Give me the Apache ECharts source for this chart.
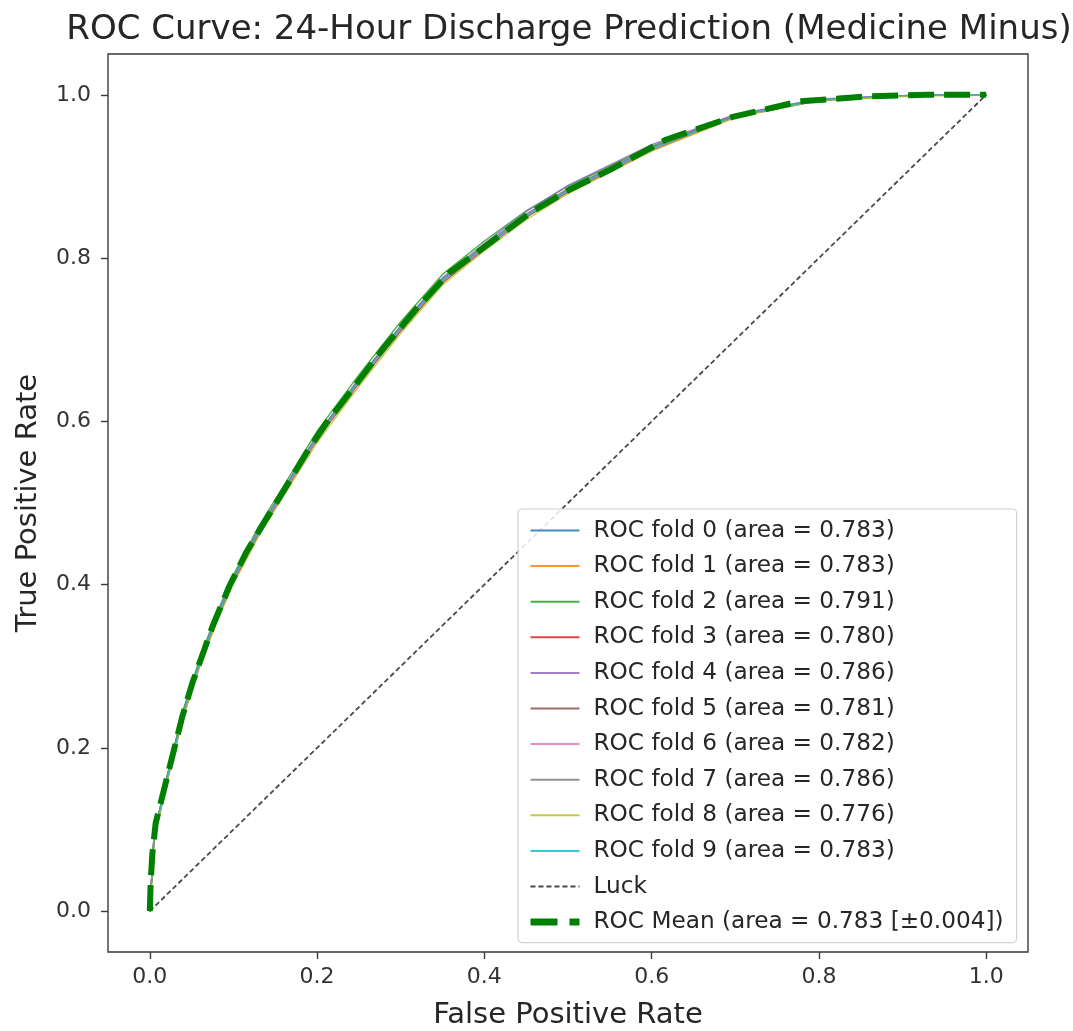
<!DOCTYPE html>
<html>
<head>
<meta charset="utf-8">
<script src="https://cdn.jsdelivr.net/npm/echarts@6/dist/echarts.min.js"></script>
<style>
html,body{margin:0;padding:0;background:#fff;}
#chart{width:1073px;height:1031px;}
</style>
</head>
<body>
<div id="chart"></div>
<script>
// ---- data ----
const foldFpr = [0, 0.005, 0.02, 0.04, 0.06, 0.08, 0.1, 0.13, 0.16, 0.2, 0.25, 0.3, 0.35, 0.4, 0.45, 0.5, 0.6, 0.7, 0.8, 0.9, 1.0];
const fold0Tpr = [0, 0.092, 0.161, 0.244, 0.307, 0.361, 0.408, 0.466, 0.516, 0.582, 0.651, 0.716, 0.773, 0.815, 0.853, 0.884, 0.935, 0.974, 0.994, 0.999, 1.0];
const fold1Tpr = [0, 0.088, 0.158, 0.241, 0.304, 0.358, 0.405, 0.463, 0.514, 0.580, 0.649, 0.714, 0.772, 0.814, 0.852, 0.883, 0.934, 0.974, 0.994, 0.999, 1.0];
const fold2Tpr = [0, 0.093, 0.163, 0.247, 0.310, 0.365, 0.412, 0.471, 0.521, 0.588, 0.657, 0.722, 0.780, 0.821, 0.858, 0.888, 0.937, 0.975, 0.994, 0.999, 1.0];
const fold3Tpr = [0, 0.088, 0.157, 0.240, 0.303, 0.357, 0.404, 0.462, 0.512, 0.578, 0.647, 0.712, 0.770, 0.812, 0.850, 0.881, 0.932, 0.973, 0.993, 0.999, 1.0];
const fold4Tpr = [0, 0.091, 0.161, 0.245, 0.308, 0.362, 0.409, 0.467, 0.517, 0.583, 0.652, 0.717, 0.776, 0.818, 0.857, 0.889, 0.939, 0.976, 0.995, 0.999, 1.0];
const fold5Tpr = [0, 0.089, 0.157, 0.240, 0.303, 0.357, 0.404, 0.462, 0.512, 0.578, 0.647, 0.711, 0.770, 0.811, 0.850, 0.881, 0.932, 0.973, 0.993, 0.999, 1.0];
const fold6Tpr = [0, 0.090, 0.159, 0.242, 0.305, 0.359, 0.406, 0.464, 0.513, 0.579, 0.648, 0.713, 0.771, 0.812, 0.851, 0.882, 0.933, 0.973, 0.994, 0.999, 1.0];
const fold7Tpr = [0, 0.092, 0.162, 0.245, 0.308, 0.362, 0.409, 0.467, 0.517, 0.583, 0.652, 0.717, 0.775, 0.816, 0.854, 0.885, 0.936, 0.975, 0.994, 0.999, 1.0];
const fold8Tpr = [0, 0.087, 0.155, 0.238, 0.300, 0.354, 0.401, 0.459, 0.509, 0.574, 0.643, 0.708, 0.767, 0.809, 0.847, 0.879, 0.931, 0.972, 0.993, 0.998, 1.0];
const fold9Tpr = [0, 0.091, 0.160, 0.243, 0.306, 0.360, 0.407, 0.465, 0.515, 0.581, 0.650, 0.715, 0.773, 0.814, 0.852, 0.883, 0.934, 0.974, 0.994, 0.999, 1.0];
const foldAuc = ['0.783', '0.783', '0.791', '0.780', '0.786', '0.781', '0.782', '0.786', '0.776', '0.783'];
const meanFpr = [0, 0.001, 0.003, 0.007, 0.017, 0.027, 0.039, 0.051, 0.065, 0.075, 0.095, 0.115, 0.139, 0.163, 0.187, 0.211, 0.242, 0.278, 0.318, 0.358, 0.406, 0.454, 0.502, 0.55, 0.617, 0.697, 0.777, 0.857, 0.93, 1.0];
const meanTpr = [0, 0.035, 0.07, 0.108, 0.149, 0.19, 0.239, 0.28, 0.32, 0.349, 0.398, 0.439, 0.48, 0.52, 0.561, 0.598, 0.639, 0.688, 0.737, 0.782, 0.818, 0.855, 0.884, 0.908, 0.945, 0.973, 0.992, 0.998, 1.0, 1.0];
const meanAuc = '0.783';
const meanStd = '0.004';
const luckX = [0, 1];
const luckY = [0, 1];
const xTicks = [0, 0.2, 0.4, 0.6, 0.8, 1.0];
const yTicks = [0, 0.2, 0.4, 0.6, 0.8, 1.0];
const foldColors = ['#1f77b4', '#ff7f0e', '#2ca02c', '#d62728', '#9467bd', '#8c564b', '#e377c2', '#7f7f7f', '#bcbd22', '#17becf'];

const foldTprs = [fold0Tpr, fold1Tpr, fold2Tpr, fold3Tpr, fold4Tpr, fold5Tpr, fold6Tpr, fold7Tpr, fold8Tpr, fold9Tpr];
const zip = (xs, ys) => xs.map((x, i) => [x, ys[i]]);

const FONT = 'DejaVu Sans, sans-serif';
const series = [];
const legendData = [];
foldTprs.forEach((t, i) => {
  const name = 'ROC fold ' + i + ' (area = ' + foldAuc[i] + ')';
  series.push({
    name: name,
    type: 'line', symbol: 'none', smooth: false,
    data: zip(foldFpr, t),
    lineStyle: { color: foldColors[i], width: 1.4, opacity: 0.85 },
    itemStyle: { color: foldColors[i] },
    z: 2
  });
  legendData.push({ name: name, lineStyle: { width: 2 } });
});
series.push({
  name: 'Luck', type: 'line', symbol: 'none',
  data: zip(luckX, luckY),
  lineStyle: { color: '#2a2a2a', width: 1.8, type: [5, 3], opacity: 0.85 },
  itemStyle: { color: '#2a2a2a' },
  z: 3
});
legendData.push({ name: 'Luck', lineStyle: { width: 2 } });
const meanName = 'ROC Mean (area = ' + meanAuc + ' [±' + meanStd + '])';
series.push({
  name: meanName, type: 'line', symbol: 'none',
  data: zip(meanFpr, meanTpr),
  lineStyle: { color: '#008000', width: 6, type: [26, 10] },
  itemStyle: { color: '#008000' },
  z: 4
});
legendData.push({ name: meanName, lineStyle: { width: 7, type: [27, 12] } });

const chart = echarts.init(document.getElementById('chart'), null, { renderer: 'canvas' });
chart.setOption({
  animation: false,
  backgroundColor: '#fff',
  title: {
    text: 'ROC Curve: 24-Hour Discharge Prediction (Medicine Minus)',
    left: 564, top: 8, textAlign: 'center',
    textStyle: { fontFamily: FONT, fontSize: 34, fontWeight: 'normal', color: '#262626' }
  },
  grid: {
    left: 108, right: 45, top: 54, bottom: 79,
    outerBoundsMode: 'none', containLabel: false,
    show: true, borderColor: '#3a3a3a', borderWidth: 1.4, backgroundColor: 'transparent'
  },
  xAxis: {
    type: 'value', min: -0.05, max: 1.05,
    name: 'False Positive Rate', nameLocation: 'middle', nameGap: 49,
    nameTextStyle: { fontFamily: FONT, fontSize: 29, color: '#262626' },
    axisLine: { show: false, onZero: false },
    splitLine: { show: false },
    axisTick: { show: true, customValues: xTicks, length: 7, lineStyle: { color: '#3a3a3a', width: 1.4 } },
    axisLabel: { customValues: xTicks, formatter: v => v.toFixed(1), fontFamily: FONT, fontSize: 22, color: '#333', margin: 14 }
  },
  yAxis: {
    type: 'value', min: -0.05, max: 1.05,
    name: 'True Positive Rate', nameLocation: 'middle', nameGap: 65, nameRotate: 90,
    nameTextStyle: { fontFamily: FONT, fontSize: 29, color: '#262626' },
    axisLine: { show: false, onZero: false },
    splitLine: { show: false },
    axisTick: { show: true, customValues: yTicks, length: 7, lineStyle: { color: '#3a3a3a', width: 1.4 } },
    axisLabel: { customValues: yTicks, formatter: v => v.toFixed(1), fontFamily: FONT, fontSize: 22, color: '#333', margin: 17 }
  },
  legend: {
    orient: 'vertical', left: 518, top: 509,
    padding: [10, 13, 9, 9],
    itemWidth: 49, itemHeight: 20, itemGap: 12.6,
    itemStyle: { opacity: 0 },
    backgroundColor: 'rgba(255,255,255,0.85)', borderColor: '#d0d0d0', borderWidth: 1.2, borderRadius: 4,
    textStyle: { fontFamily: FONT, fontSize: 23.2, color: '#262626', lineHeight: 20, padding: [0, 0, 0, 9] },
    data: legendData
  },
  series: series
});
</script>
</body>
</html>
